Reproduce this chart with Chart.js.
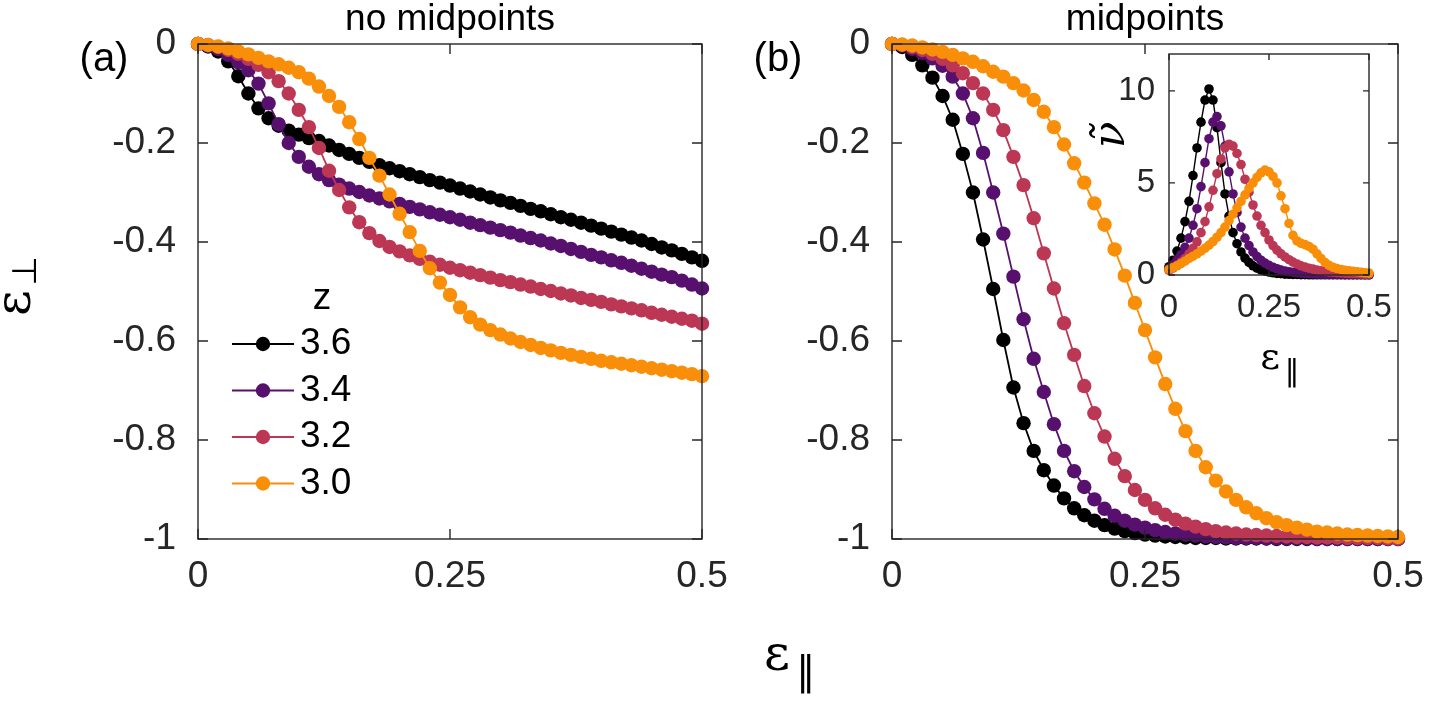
<!DOCTYPE html>
<html>
<head>
<meta charset="utf-8">
<script src="https://cdn.jsdelivr.net/npm/chart.js@4.4.1/dist/chart.umd.min.js"></script>
<style>
  html, body { margin: 0; padding: 0; background: #fff; }
  body { width: 1430px; height: 707px; position: relative; overflow: hidden; }
  canvas { position: absolute; }
  #cA { left: 0; top: 0; }
  #cB { left: 710px; top: 0; }
  #cC { left: 1080px; top: 40px; }
</style>
</head>
<body>
<canvas id="cA" width="760" height="707"></canvas>
<canvas id="cB" width="720" height="707"></canvas>
<canvas id="cC" width="340" height="360"></canvas>
<script>
// --- data ---
const zLabels = ['3.6', '3.4', '3.2', '3.0'];
const zColors = ['#000000', '#57106e', '#bc3754', '#f98e09'];

const epsPar = [0,0.01,0.02,0.03,0.04,0.05,0.06,0.07,0.08,0.09,0.1,0.11,0.12,0.13,0.14,0.15,0.16,0.17,0.18,0.19,
  0.2,0.21,0.22,0.23,0.24,0.25,0.26,0.27,0.28,0.29,0.3,0.31,0.32,0.33,0.34,0.35,0.36,0.37,0.38,0.39,
  0.4,0.41,0.42,0.43,0.44,0.45,0.46,0.47,0.48,0.49,0.5];

// (a) no midpoints
const a36 = [0,-0.005,-0.015,-0.035,-0.065,-0.100,-0.130,-0.150,-0.165,-0.175,-0.183,-0.190,-0.196,-0.205,-0.214,-0.222,-0.230,-0.238,-0.245,-0.251,
  -0.257,-0.263,-0.269,-0.275,-0.280,-0.286,-0.292,-0.298,-0.304,-0.310,-0.316,-0.321,-0.327,-0.333,-0.338,-0.344,-0.350,-0.355,-0.361,-0.367,
  -0.373,-0.379,-0.385,-0.391,-0.397,-0.404,-0.411,-0.417,-0.424,-0.431,-0.438];
const a34 = [0,-0.004,-0.010,-0.022,-0.037,-0.053,-0.080,-0.120,-0.162,-0.200,-0.228,-0.248,-0.263,-0.275,-0.284,-0.292,-0.299,-0.306,-0.312,-0.318,
  -0.323,-0.329,-0.334,-0.340,-0.345,-0.350,-0.355,-0.361,-0.366,-0.371,-0.376,-0.381,-0.387,-0.392,-0.397,-0.403,-0.408,-0.414,-0.420,-0.426,
  -0.431,-0.437,-0.442,-0.448,-0.454,-0.460,-0.466,-0.471,-0.478,-0.486,-0.494];
const a32 = [0,-0.002,-0.006,-0.012,-0.020,-0.030,-0.042,-0.057,-0.075,-0.100,-0.133,-0.168,-0.210,-0.256,-0.295,-0.330,-0.360,-0.382,-0.398,-0.410,
  -0.419,-0.427,-0.434,-0.440,-0.446,-0.452,-0.457,-0.462,-0.467,-0.472,-0.477,-0.481,-0.486,-0.490,-0.495,-0.499,-0.504,-0.508,-0.513,-0.517,
  -0.521,-0.526,-0.530,-0.534,-0.538,-0.543,-0.547,-0.551,-0.555,-0.559,-0.565];
const a30 = [0,-0.002,-0.005,-0.009,-0.015,-0.021,-0.028,-0.035,-0.041,-0.048,-0.057,-0.070,-0.086,-0.105,-0.127,-0.158,-0.192,-0.230,-0.266,-0.304,
  -0.343,-0.380,-0.418,-0.453,-0.482,-0.507,-0.532,-0.552,-0.567,-0.578,-0.587,-0.595,-0.602,-0.608,-0.614,-0.619,-0.624,-0.628,-0.632,-0.636,
  -0.640,-0.643,-0.646,-0.649,-0.652,-0.655,-0.658,-0.661,-0.664,-0.667,-0.671];

// (b) midpoints
const b36 = [0,-0.006,-0.022,-0.043,-0.068,-0.105,-0.153,-0.222,-0.300,-0.395,-0.495,-0.598,-0.694,-0.766,-0.822,-0.861,-0.892,-0.918,-0.938,-0.952,
  -0.963,-0.972,-0.979,-0.984,-0.988,-0.991,-0.993,-0.995,-0.996,-0.997,-0.998,-0.998,-0.998,-0.999,-0.999,-0.999,-0.999,-0.999,-1,-1,
  -1,-1,-1,-1,-1,-1,-1,-1,-1,-1,-1];
const b34 = [0,-0.003,-0.010,-0.018,-0.029,-0.044,-0.066,-0.100,-0.150,-0.220,-0.300,-0.383,-0.470,-0.556,-0.636,-0.703,-0.768,-0.822,-0.863,-0.895,
  -0.920,-0.939,-0.953,-0.963,-0.971,-0.977,-0.982,-0.986,-0.989,-0.991,-0.993,-0.995,-0.996,-0.997,-0.998,-0.998,-0.998,-0.999,-0.999,-0.999,
  -0.999,-0.999,-1,-1,-1,-1,-1,-1,-1,-1,-1];
const b32 = [0,-0.002,-0.006,-0.012,-0.020,-0.030,-0.043,-0.059,-0.079,-0.100,-0.133,-0.174,-0.228,-0.285,-0.352,-0.423,-0.494,-0.564,-0.628,-0.691,
  -0.746,-0.793,-0.838,-0.873,-0.901,-0.921,-0.938,-0.951,-0.961,-0.969,-0.975,-0.980,-0.984,-0.987,-0.989,-0.991,-0.992,-0.993,-0.994,-0.995,
  -0.996,-0.996,-0.997,-0.997,-0.997,-0.998,-0.998,-0.998,-0.998,-0.999,-0.999];
const b30 = [0,-0.001,-0.003,-0.007,-0.011,-0.016,-0.022,-0.029,-0.036,-0.045,-0.056,-0.066,-0.079,-0.094,-0.113,-0.137,-0.168,-0.203,-0.241,-0.280,
  -0.322,-0.365,-0.415,-0.468,-0.523,-0.578,-0.633,-0.687,-0.737,-0.782,-0.822,-0.855,-0.882,-0.904,-0.921,-0.936,-0.948,-0.958,-0.966,-0.972,
  -0.977,-0.981,-0.985,-0.987,-0.989,-0.991,-0.992,-0.993,-0.994,-0.995,-0.996];

// inset: nu-tilde
const n36 = [0.45,0.8,1.3,2.0,2.9,4.0,5.4,6.9,8.3,9.5,10.1,9.5,8.0,6.1,4.4,3.2,2.3,1.7,1.25,0.92,
  0.68,0.5,0.37,0.28,0.21,0.16,0.12,0.09,0.07,0.05,0.04,0.03,0.03,0.02,0.02,0.01,0.01,0.01,0.01,0.01,
  0.01,0.01,0.01,0.01,0.01,0.01,0.01,0.01,0.01,0.01,0.01];
const n34 = [0.35,0.55,0.8,1.1,1.5,2.0,2.7,3.6,4.8,6.1,7.4,8.3,8.6,8.1,7.0,5.6,4.4,3.4,2.6,2.0,
  1.6,1.25,1.0,0.8,0.65,0.52,0.42,0.34,0.27,0.22,0.18,0.15,0.12,0.1,0.08,0.07,0.06,0.05,0.045,0.04,
  0.035,0.03,0.03,0.025,0.02,0.02,0.02,0.015,0.015,0.01,0.01];
const n32 = [0.25,0.38,0.52,0.7,0.9,1.15,1.45,1.8,2.3,2.9,3.7,4.6,5.5,6.3,6.9,7.1,7.0,6.6,6.0,5.2,
  4.5,3.8,3.2,2.7,2.3,1.9,1.6,1.35,1.15,0.98,0.83,0.7,0.6,0.5,0.43,0.37,0.32,0.27,0.23,0.2,
  0.17,0.15,0.13,0.11,0.1,0.09,0.08,0.07,0.06,0.05,0.05];
const n30 = [0.3,0.4,0.5,0.62,0.75,0.9,1.02,1.15,1.3,1.45,1.62,1.82,2.05,2.3,2.6,2.95,3.3,3.65,4.0,4.35,
  4.7,5.0,5.3,5.55,5.7,5.6,5.35,5.0,4.3,3.6,2.8,2.15,1.85,1.72,1.65,1.55,1.4,1.15,0.9,0.68,
  0.52,0.42,0.35,0.3,0.26,0.23,0.2,0.18,0.15,0.12,0.1];

const xTicks = [0, 0.25, 0.5];
const xTickLabels = ['0', '0.25', '0.5'];
const yTicks = [-1, -0.8, -0.6, -0.4, -0.2, 0];
const yTickLabels = ['-1', '-0.8', '-0.6', '-0.4', '-0.2', '0'];
const nuTicks = [0, 5, 10];
const nuTickLabels = ['0', '5', '10'];

// --- helpers ---
const FONT = "'Liberation Sans', Arial, sans-serif";
const AXC = '#262626';

function pts(ys) { return epsPar.map((x, i) => ({ x: x, y: ys[i] })); }

function sets(list, r, lw) {
  return list.map((ys, i) => ({
    label: zLabels[i],
    data: pts(ys),
    borderColor: zColors[i],
    backgroundColor: zColors[i],
    borderWidth: lw,
    pointRadius: r,
    pointHoverRadius: r,
    pointBorderWidth: 0,
    tension: 0,
    clip: false,
    order: list.length - i   // later z on top, as in the figure
  }));
}

function axis(ticks, labels, min, max, size, pad, fitSize, horiz) {
  return {
    type: 'linear', min: min, max: max,
    afterBuildTicks: s => { s.ticks = ticks.map(v => ({ value: v })); },
    afterFit: s => {
      if (horiz) s.height = fitSize; else s.width = fitSize;
      s.paddingLeft = 0; s.paddingRight = 0; s.paddingTop = 0; s.paddingBottom = 0;
    },
    ticks: {
      autoSkip: false, maxRotation: 0, padding: pad, color: AXC,
      font: { family: FONT, size: size },
      callback: (v, i) => labels[i]
    },
    grid: { display: false, drawTicks: false },
    border: { display: false }
  };
}

// box with inward ticks on all four sides (matlab style)
const frame = {
  id: 'frame',
  afterDatasetsDraw(chart, args, o) {
    const { ctx, chartArea: a, scales: { x, y } } = chart;
    const L = o.len;
    ctx.save();
    ctx.strokeStyle = AXC;
    ctx.lineWidth = o.lw;
    ctx.strokeRect(a.left, a.top, a.right - a.left, a.bottom - a.top);
    ctx.beginPath();
    x.ticks.forEach(t => {
      const px = x.getPixelForValue(t.value);
      ctx.moveTo(px, a.bottom); ctx.lineTo(px, a.bottom - L);
      ctx.moveTo(px, a.top); ctx.lineTo(px, a.top + L);
    });
    y.ticks.forEach(t => {
      const py = y.getPixelForValue(t.value);
      ctx.moveTo(a.left, py); ctx.lineTo(a.left + L, py);
      ctx.moveTo(a.right, py); ctx.lineTo(a.right - L, py);
    });
    ctx.stroke();
    ctx.restore();
  }
};

// free text (titles, panel letters, axis names)
const texts = {
  id: 'texts',
  afterDraw(chart, args, o) {
    const ctx = chart.ctx;
    (o.items || []).forEach(t => {
      ctx.save();
      ctx.translate(t.x, t.y);
      if (t.rot) ctx.rotate(t.rot);
      ctx.font = t.font;
      ctx.fillStyle = t.color || '#000';
      ctx.textAlign = t.align || 'center';
      ctx.textBaseline = t.base || 'middle';
      ctx.fillText(t.text, t.dx || 0, t.dy || 0);
      ctx.restore();
    });
  }
};

// legend in panel (a)
const zLegend = {
  id: 'zLegend',
  afterDraw(chart, args, o) {
    if (!o.show) return;
    const ctx = chart.ctx;
    ctx.save();
    ctx.font = o.font;
    ctx.textBaseline = 'middle';
    ctx.fillStyle = '#000';
    ctx.textAlign = 'center';
    ctx.fillText(o.title, o.titleX, o.titleY);
    chart.data.datasets.forEach((ds, i) => {
      const yy = o.y0 + i * o.dy;
      ctx.strokeStyle = ds.borderColor;
      ctx.lineWidth = ds.borderWidth;
      ctx.beginPath(); ctx.moveTo(o.x0, yy); ctx.lineTo(o.x1, yy); ctx.stroke();
      ctx.fillStyle = ds.backgroundColor;
      ctx.beginPath(); ctx.arc((o.x0 + o.x1) / 2, yy, ds.pointRadius, 0, Math.PI * 2); ctx.fill();
      ctx.fillStyle = '#000';
      ctx.textAlign = 'left';
      ctx.fillText(ds.label, o.tx, yy);
    });
    ctx.restore();
  }
};

Chart.register(frame, texts, zLegend);

function panel(id, series, opts) {
  return new Chart(document.getElementById(id), {
    type: 'line',
    data: { datasets: sets(series, opts.r, opts.lw) },
    options: {
      responsive: false,
      animation: false,
      events: [],
      layout: { padding: opts.padding },
      scales: {
        x: axis(xTicks, xTickLabels, 0, 0.5, opts.fs, opts.xpad, opts.xh, true),
        y: axis(opts.yt, opts.yl, opts.ymin, opts.ymax, opts.fs, opts.ypad, opts.yw, false)
      },
      plugins: {
        legend: { display: false },
        tooltip: { enabled: false },
        frame: { len: opts.tick, lw: 1.4 },
        texts: { items: opts.texts },
        zLegend: opts.legend || { show: false }
      }
    }
  });
}

const big = '37px ' + FONT;
const letter = '40px ' + FONT;

panel('cA', [a36, a34, a32, a30], {
  r: 7.2, lw: 1.8, fs: 37, xpad: 16, ypad: 22, xh: 168, yw: 198, tick: 10,
  padding: { left: 0, top: 44, right: 58, bottom: 0 },
  yt: yTicks, yl: yTickLabels, ymin: -1, ymax: 0,
  texts: [
    { text: 'no midpoints', x: 450, y: 30, font: big, base: 'alphabetic' },
    { text: '(a)', x: 104, y: 60, font: letter },
    { text: 'ε', x: 22, y: 288, rot: -Math.PI / 2, dx: -15, dy: -5, font: "50px 'DejaVu Serif'" },
    { text: '⊥', x: 22, y: 288, rot: -Math.PI / 2, dx: 17, dy: 5, font: "34px 'DejaVu Sans'" }
  ],
  legend: { show: true, font: big, title: 'z', titleX: 322, titleY: 299,
    x0: 232, x1: 294, tx: 300, y0: 344, dy: 46.5 }
});

panel('cB', [b36, b34, b32, b30], {
  r: 7.2, lw: 1.8, fs: 37, xpad: 16, ypad: 22, xh: 168, yw: 182, tick: 10,
  padding: { left: 0, top: 44, right: 32, bottom: 0 },
  yt: yTicks, yl: yTickLabels, ymin: -1, ymax: 0,
  texts: [
    { text: 'midpoints', x: 435, y: 30, font: big, base: 'alphabetic' },
    { text: '(b)', x: 68, y: 60, font: letter },
    { text: 'ε', x: 67, y: 657, font: "50px 'DejaVu Serif'" },
    { text: '∥', x: 96, y: 675, font: "40px 'DejaVu Sans'" }
  ]
});

panel('cC', [n36, n34, n32, n30], {
  r: 4.8, lw: 1.4, fs: 33, xpad: 13, ypad: 14, xh: 125, yw: 89, tick: 6,
  padding: { left: 0, top: 14, right: 51, bottom: 0 },
  yt: nuTicks, yl: nuTickLabels, ymin: 0, ymax: 12,
  texts: [
    { text: 'ν̃', x: 33, y: 95, rot: -Math.PI / 2, font: "italic 44px 'DejaVu Serif'" },
    { text: 'ε', x: 190, y: 319, font: "38px 'DejaVu Serif'" },
    { text: '∥', x: 212, y: 333, font: "30px 'DejaVu Sans'" }
  ]
});
</script>
</body>
</html>
